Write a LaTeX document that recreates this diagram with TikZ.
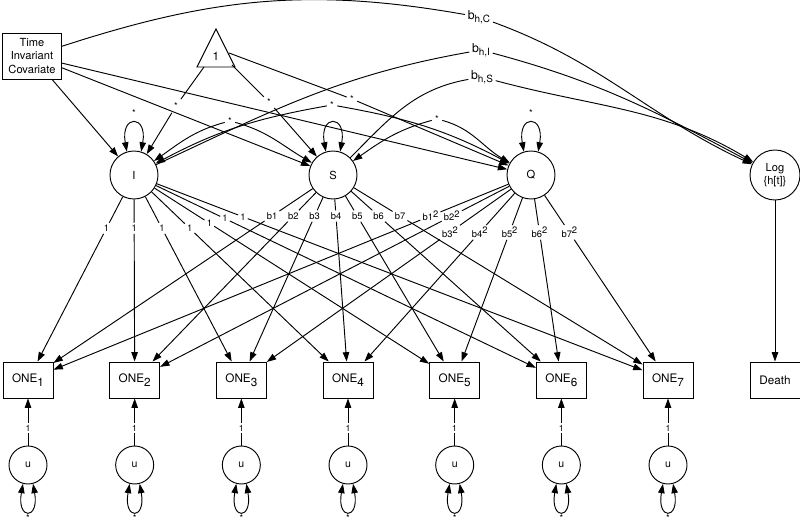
\documentclass[tikz,border=0pt]{standalone}
\usepackage{fontspec}
\setmainfont{TeX Gyre Heros}
\usetikzlibrary{calc,arrows.meta}

\tikzset{
  box/.style={draw, rectangle, minimum width=1.5cm, minimum height=1.08cm, inner sep=1pt,
    font=\fontsize{10}{11}\selectfont},
  lat/.style={draw, circle, minimum size=1.44cm, inner sep=0pt, font=\fontsize{9.5}{11.5}\selectfont},
  res/.style={draw, circle, minimum size=1.14cm, inner sep=0pt, font=\fontsize{9}{10}\selectfont},
  lbl/.style={inner sep=1.5pt, font=\fontsize{8}{9}\selectfont},
  star/.style={inner sep=2.5pt, font=\fontsize{8}{9}\selectfont},
  hlbl/.style={inner sep=2pt, font=\fontsize{10.5}{12}\selectfont},
}
\newcommand{\hsub}[1]{\raisebox{-2.5pt}{\fontsize{8.5}{9}\selectfont #1}}

\begin{document}
\begin{tikzpicture}[x=0.03cm, y=0.03cm, line width=0.8pt,
    >={Triangle[length=8pt,width=5.5pt]}]
  \useasboundingbox (0,0) rectangle (800,523);

  % covariate and constant
  \node[box, minimum width=1.77cm, minimum height=1.38cm, align=center,
    font=\fontsize{9.5}{11.5}\selectfont] (cov) at (32,467) {Time\\Invariant\\Covariate};
  \draw (216,494) -- (235,456) -- (197,456) -- cycle;
  \node[font=\fontsize{10}{11}\selectfont] (one) at (216,467) {1};
  \coordinate (tI) at (204,456);
  \coordinate (tS) at (232,458);
  \coordinate (tQ) at (229,470);

  % growth factors and hazard
  \node[lat] (I) at (134,348) {I};
  \node[lat] (S) at (333,348) {S};
  \node[lat] (Q) at (531,348) {Q};
  \node[lat, minimum size=1.5cm, align=center] (Log) at (775,348) {Log\\\{h[t]\}};
  \node[box] (death) at (775,143) {Death};

  % indicators and residuals
  \foreach \k in {1,...,7} {
    \pgfmathsetmacro\xx{28+106.67*(\k-1)}
    \node[box] (ONE\k) at (\xx,143) {ONE\raisebox{-3pt}{\k}};
    \node[res] (u\k) at (\xx,58) {u};
    \node[lbl, font=\fontsize{7.5}{8}\selectfont] (lu\k) at (\xx,95) {1};
    \draw (u\k) -- (lu\k);
    \draw[->] (lu\k) -- (ONE\k);
    \draw[<->] (u\k.255) .. controls +(260:37) and +(280:37) .. (u\k.285);
    \node[star, inner sep=0.5pt, anchor=south] (su\k) at (\xx,0.5) {*};
  }

  % loadings
  \foreach \k/\ps in {1/0.26,2/0.26,3/0.26,4/0.26,5/0.235,6/0.213,7/0.204} {
    \node[lbl] (li\k) at ($(I)!\ps!(ONE\k)$) {1};
    \draw (I) -- (li\k);
    \draw[->] (li\k) -- (ONE\k);
  }
  \foreach \k in {1,...,7} {
    \node[lbl] (ls\k) at ($(S)!0.2!(ONE\k)$) {b\k};
    \draw (S) -- (ls\k);
    \draw[->] (ls\k) -- (ONE\k);
  }
  \foreach \k/\ps in {1/0.2,2/0.2,3/0.28,4/0.28,5/0.28,6/0.28,7/0.28} {
    \node[lbl] (lq\k) at ($(Q)!\ps!(ONE\k)$) {b\k\raisebox{0.7ex}{2}};
    \draw (Q) -- (lq\k);
    \draw[->] (lq\k) -- (ONE\k);
  }

  % means
  \node[star] (sTI) at (176,417) {*};
  \node[star] (sTS) at (269,421) {*};
  \node[star] (sTQ) at (352,424) {*};
  \draw (tI) -- (sTI); \draw[->] (sTI) -- (I);
  \draw (tS) -- (sTS); \draw[->] (sTS) -- (S);
  \draw (tQ) -- (sTQ); \draw[->] (sTQ) -- (Q);

  % variances
  \node[star] (sI) at (134,410) {*};
  \node[star] (sQ) at (531,410) {*};
  \draw[<->] (I.107) .. controls +(100:38) and +(80:38) .. (I.73);
  \draw[<->] (S.107) .. controls +(100:38) and +(80:38) .. (S.73);
  \draw[<->] (Q.107) .. controls +(100:38) and +(80:38) .. (Q.73);

  % covariances
  \node[star] (sIS) at (230,402) {*};
  \node[star] (sIQ) at (332,418) {*};
  \node[star] (sSQ) at (437,404) {*};
  \draw[->] (sIS) to[out=195,in=35] (I);
  \draw[->] (sIS) to[out=-15,in=150] (S);
  \draw[->] (sIQ) to[out=190,in=28] (I);
  \draw[->] (sIQ) to[out=-10,in=152] (Q);
  \draw[->] (sSQ) to[out=195,in=35] (S);
  \draw[->] (sSQ) to[out=-15,in=150] (Q);

  % covariate effects
  \draw[->] (cov) -- (I);
  \draw[->] (cov) -- (S);
  \draw[->] (cov) -- (Q);

  % hazard part
  \node[hlbl] (bhC) at (479,506) {b\hsub{h,C}};
  \node[hlbl] (bhI) at (481,473) {b\hsub{h,I}};
  \node[hlbl] (bhS) at (482,446) {b\hsub{h,S}};
  \draw (cov) to[out=18,in=170] (bhC);
  \draw[->] (bhC) to[out=-20,in=155] (Log);
  \draw (I) to[out=25,in=190] (bhI);
  \draw[->] (bhI) to[out=-15,in=152] (Log);
  \draw (S) to[out=45,in=190] (bhS);
  \draw[->] (bhS) to[out=-15,in=149] (Log);
  \draw[->] (Log) -- (death);
\end{tikzpicture}
\end{document}
